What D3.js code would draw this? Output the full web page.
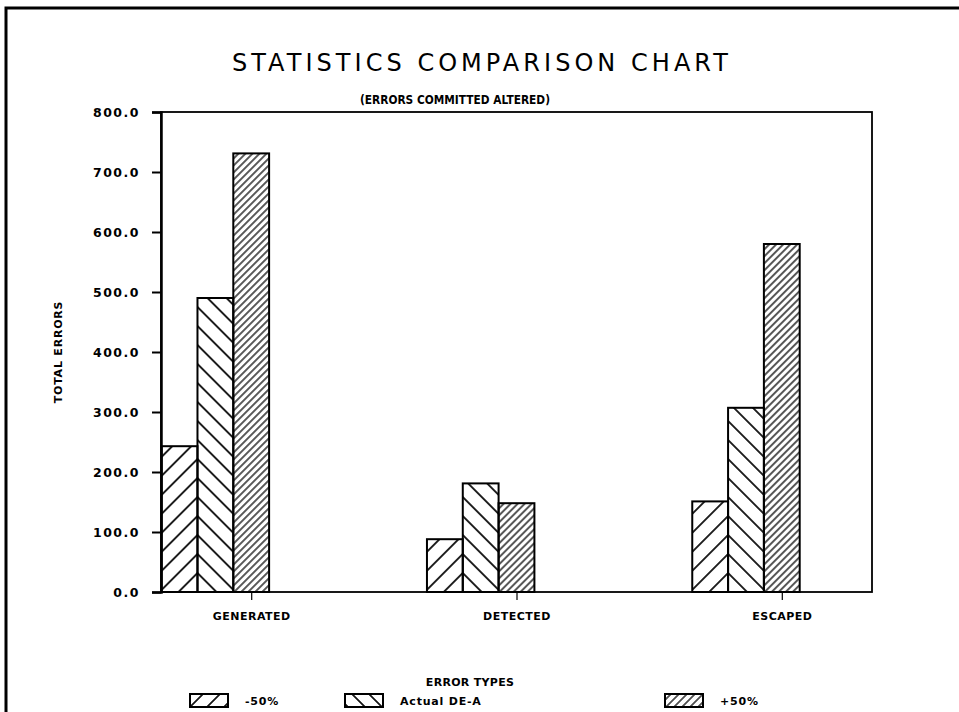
<!DOCTYPE html>
<html>
<head>
<meta charset="utf-8">
<script src="https://cdn.jsdelivr.net/npm/d3@7"></script>
<style>
  html, body { margin: 0; padding: 0; background: #fff; }
  svg { display: block; }
  .lbl { font-family: "DejaVu Sans", sans-serif; font-weight: bold; fill: #000; }
</style>
</head>
<body>
<svg id="chart" width="959" height="712"></svg>
<script>
// Error counts per category for each scenario
const categories = ["GENERATED", "DETECTED", "ESCAPED"];
const seriesNames = ["-50%", "Actual DE-A", "+50%"];
const minus50 = [243, 88, 151];
const actualDEA = [490, 181, 307];
const plus50 = [731, 148, 580];
const yTickValues = [0, 100, 200, 300, 400, 500, 600, 700, 800];

const seriesValues = [minus50, actualDEA, plus50];
// hatch: direction and vertical spacing of each series' fill lines
const hatch = [
  { dir: "/", period: 19 },
  { dir: "\\", period: 19 },
  { dir: "/", period: 7 }
];

const W = 959, H = 712;
const plot = { left: 161, right: 872, top: 112, bottom: 592 };

const svg = d3.select("#chart");
const defs = svg.append("defs");

const x = d3.scalePoint().domain(categories).range([plot.left, plot.right]).padding(0.34);
const y = d3.scaleLinear().domain([0, 800]).range([plot.bottom, plot.top]);
const barW = x.step() * 0.135;

// outer page frame (top and left edges)
svg.append("path")
  .attr("d", `M6,${H} L6,8 L${W},8`)
  .attr("fill", "none").attr("stroke", "#000").attr("stroke-width", 3);

// diagonal hatch: vertical stripes rotated ±45°, anchored at (ox, oy)
function makePattern(id, h, ox, oy) {
  const s = h.period / Math.SQRT2;
  const lw = h.period > 10 ? 1.7 : 1.3;
  const angle = h.dir === "/" ? 45 : -45;
  const p = defs.append("pattern")
    .attr("id", id)
    .attr("patternUnits", "userSpaceOnUse")
    .attr("width", s).attr("height", 10)
    .attr("patternTransform", `translate(${ox},${oy}) rotate(${angle})`);
  p.append("rect").attr("x", 0).attr("y", 0).attr("width", lw / 2).attr("height", 10).attr("fill", "#000");
  p.append("rect").attr("x", s - lw / 2).attr("y", 0).attr("width", lw / 2).attr("height", 10).attr("fill", "#000");
  return `url(#${id})`;
}

// titles
svg.append("text")
  .attr("x", 480).attr("y", 71)
  .attr("text-anchor", "middle")
  .attr("textLength", 496).attr("lengthAdjust", "spacing")
  .style("font-family", "'DejaVu Sans', sans-serif")
  .style("font-weight", "normal")
  .style("font-size", "24px")
  .text("STATISTICS COMPARISON CHART");

svg.append("text")
  .attr("class", "lbl")
  .attr("x", 455).attr("y", 104)
  .attr("text-anchor", "middle")
  .attr("textLength", 190).attr("lengthAdjust", "spacingAndGlyphs")
  .style("font-size", "11.5px")
  .text("(ERRORS COMMITTED ALTERED)");

// bars
const bars = svg.append("g");
categories.forEach((cat, ci) => {
  seriesValues.forEach((vals, si) => {
    const x0 = x(cat) + (si - 2.5) * barW;
    const ox = hatch[si].dir === "/" ? x0 + barW : x0;
    const fill = makePattern(`h-${ci}-${si}`, hatch[si], ox, plot.bottom);
    bars.append("rect")
      .attr("x", x0)
      .attr("y", y(vals[ci]))
      .attr("width", barW)
      .attr("height", y(0) - y(vals[ci]))
      .attr("fill", fill)
      .attr("stroke", "#000")
      .attr("stroke-width", 2);
  });
});

// plot frame
svg.append("rect")
  .attr("x", plot.left).attr("y", plot.top)
  .attr("width", plot.right - plot.left).attr("height", plot.bottom - plot.top)
  .attr("fill", "none").attr("stroke", "#000").attr("stroke-width", 1.8);

// y axis
const yAxis = svg.append("g")
  .attr("transform", `translate(${plot.left},0)`)
  .call(d3.axisLeft(y).tickValues(yTickValues).tickSize(9).tickPadding(12)
    .tickFormat(d3.format(".1f")));
yAxis.select(".domain").attr("stroke-width", 2.5);
yAxis.selectAll(".tick line").attr("stroke-width", 2);
yAxis.selectAll(".tick text")
  .attr("class", "lbl")
  .style("font-size", "12.5px")
  .style("letter-spacing", "1.5px")
  .attr("font-family", null);

// x axis
const xAxis = svg.append("g")
  .attr("transform", `translate(0,${plot.bottom})`)
  .call(d3.axisBottom(x).tickSize(8).tickPadding(12));
xAxis.select(".domain").remove();
xAxis.selectAll(".tick line").attr("stroke-width", 1.2);
xAxis.selectAll(".tick text")
  .attr("class", "lbl")
  .style("font-size", "11px")
  .style("letter-spacing", "0.5px")
  .attr("font-family", null);

// axis titles
svg.append("text")
  .attr("class", "lbl")
  .attr("transform", `translate(62,${(plot.top + plot.bottom) / 2}) rotate(-90)`)
  .attr("text-anchor", "middle")
  .style("font-size", "11px")
  .style("letter-spacing", "0.8px")
  .text("TOTAL ERRORS");

svg.append("text")
  .attr("class", "lbl")
  .attr("x", 470).attr("y", 686)
  .attr("text-anchor", "middle")
  .style("font-size", "11px")
  .style("letter-spacing", "0.3px")
  .text("ERROR TYPES");

// legend
const legendX = [190, 345, 665];
const legend = svg.append("g").attr("transform", "translate(0,694)");
seriesNames.forEach((name, si) => {
  const lx = legendX[si];
  const h = { dir: hatch[si].dir, period: si === 2 ? 8 : 17 };
  const fill = makePattern(`lg-${si}`, h, lx + (h.dir === "/" ? 3 : 0), 707);
  legend.append("rect")
    .attr("x", lx).attr("y", 0)
    .attr("width", 38).attr("height", 13)
    .attr("fill", fill)
    .attr("stroke", "#000").attr("stroke-width", 2);
  legend.append("text")
    .attr("class", "lbl")
    .attr("x", lx + 55).attr("y", 11)
    .style("font-size", "11px")
    .style("letter-spacing", "0.8px")
    .text(name);
});
</script>
</body>
</html>
